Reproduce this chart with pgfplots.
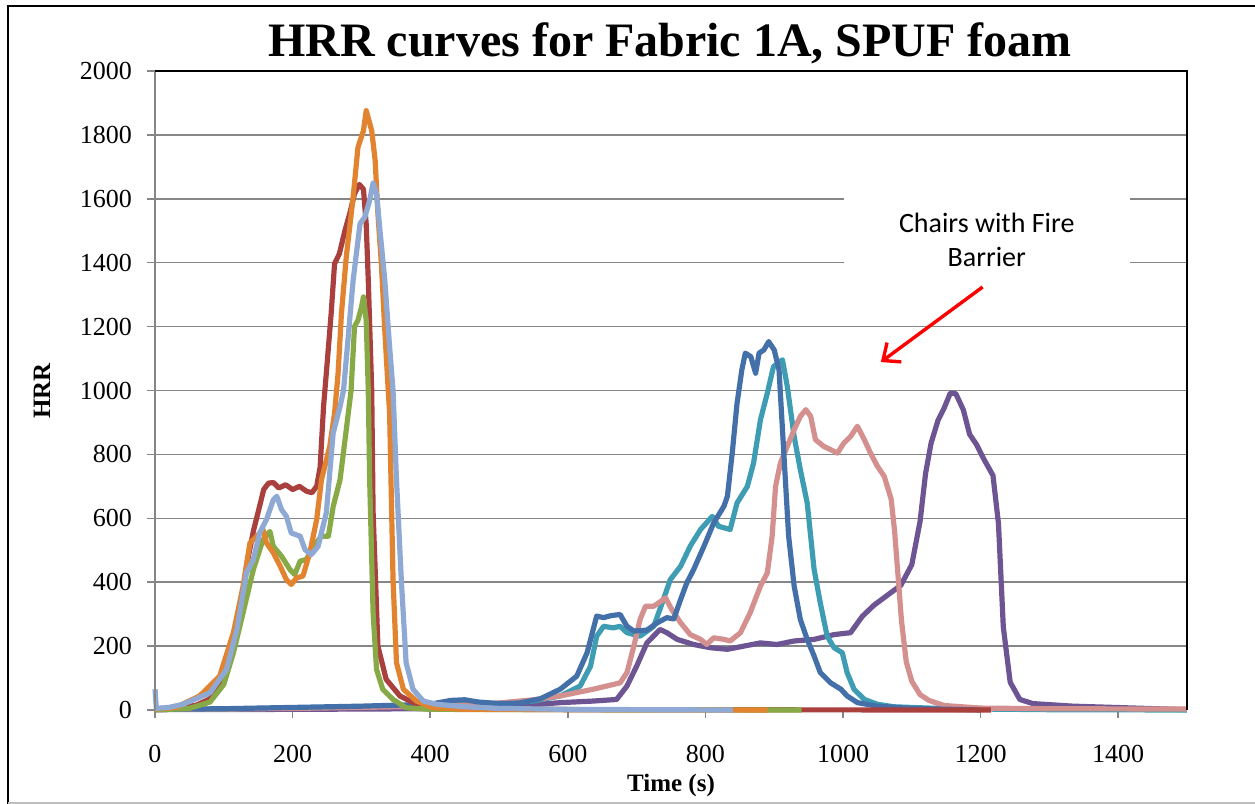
\documentclass[border=0pt]{standalone}
\usepackage{pgfplots}
\pgfplotsset{compat=1.18}
\usepackage{fontspec}
\setmainfont{Liberation Serif}
\newfontfamily\calib{Carlito}
\usetikzlibrary{arrows.meta}

\definecolor{cRed}{HTML}{A9403D}
\definecolor{cOrange}{HTML}{E2832F}
\definecolor{cGreen}{HTML}{87AA47}
\definecolor{cLightBlue}{HTML}{8EA9D4}
\definecolor{cBlue}{HTML}{4470AA}
\definecolor{cTeal}{HTML}{3E9DB3}
\definecolor{cPink}{HTML}{D3908E}
\definecolor{cPurple}{HTML}{6D5492}
\definecolor{gridgray}{HTML}{868686}

\begin{document}
\begin{tikzpicture}[x=1pt,y=1pt]
\useasboundingbox (0,0) rectangle (627.5,402);
% chart frame
\draw[line width=1pt] (4,0) -- (4,399) -- (627.5,399);
\draw[black!25, line width=0.8pt] (4,0.6) -- (627.5,0.6);
\node[font=\fontsize{24}{24}\selectfont\bfseries, anchor=base] at (335,373.5) {HRR curves for Fabric 1A, SPUF foam};
\node[font=\fontsize{12.5}{12.5}\selectfont\bfseries, rotate=90] at (21,206.5) {HRR};
\node[font=\fontsize{12.5}{12.5}\selectfont\bfseries] at (335.5,9.5) {Time (s)};

\begin{axis}[
    at={(77.5pt,47pt)}, anchor=south west,
    scale only axis,
    width=516pt, height=319.5pt,
    xmin=0, xmax=1500,
    ymin=0, ymax=2000,
    xtick={0,200,...,1400},
    ytick={0,200,...,2000},
    xtick pos=bottom, ytick pos=left,
    tick align=outside,
    major tick length=4pt,
    major tick style={draw=gridgray, line width=0.75pt},
    axis line style={draw=none},
    ymajorgrids=true,
    grid style={draw=gridgray, line width=0.75pt},
    /pgf/number format/assume math mode=true,
    /pgf/number format/1000 sep={},
    tick label style={font=\fontsize{13}{13}\selectfont},
    xticklabel style={yshift=-10pt},
    yticklabel style={xshift=-4pt},
    every axis plot/.append style={line width=2.6pt, line join=round, no markers},
    clip=false,
]
% bottom axis line and annotation box, under the curves
\draw[gridgray, line width=0.75pt] (rel axis cs:0,0) -- (rel axis cs:1,0);
\node[fill=white, inner sep=0pt, minimum width=143pt, minimum height=56pt] at (axis cs:1209,1471) {};

\addplot[cPurple] coordinates {
(0,1)(200,2)(400,4)(500,8)(589,23)(637,28)(671,33)(686,75)(700,137)(715,210)(734,252)(744,242)(759,221)(783,205)(807,195)(832,190)(856,200)(880,210)(904,205)(929,216)(958,221)(987,236)(1011,242)(1028,293)(1045,328)(1065,360)(1084,390)(1100,455)(1112,590)(1120,740)(1128,835)(1138,906)(1147,945)(1156,992)(1164,990)(1175,939)(1184,863)(1194,831)(1204,788)(1218,734)(1226,583)(1233,260)(1243,87)(1257,33)(1276,20)(1334,12)(1500,1)
};
\addplot[cTeal] coordinates {
(0,2)(100,3)(200,6)(300,10)(400,15)(450,22)(500,20)(550,28)(589,44)(618,75)(633,137)(642,231)(652,262)(666,257)(676,262)(686,242)(705,231)(725,262)(739,346)(749,408)(764,450)(778,513)(793,565)(810,606)(819,575)(836,565)(846,648)(861,700)(870,773)(880,908)(890,992)(899,1075)(912,1096)(919,1013)(929,856)(938,752)(948,648)(958,440)(967,335)(977,231)(987,195)(999,179)(1006,117)(1016,65)(1031,33)(1050,18)(1074,10)(1150,4)(1300,1)(1500,0)
};
\addplot[cPink] coordinates {
(0,2)(100,3)(200,5)(300,8)(400,12)(450,15)(500,22)(550,32)(589,44)(637,65)(676,85)(686,117)(696,200)(705,283)(713,325)(725,325)(732,335)(742,351)(751,315)(764,273)(778,236)(793,221)(802,205)(812,226)(827,221)(836,216)(851,242)(865,304)(880,388)(890,429)(897,544)(902,700)(909,773)(919,825)(929,877)(938,919)(946,940)(953,919)(960,846)(972,825)(982,815)(992,804)(1001,835)(1011,856)(1021,888)(1031,846)(1040,804)(1050,763)(1060,731)(1070,660)(1075,560)(1080,420)(1085,280)(1092,150)(1100,90)(1112,48)(1125,30)(1147,14)(1200,6)(1300,4)(1500,3)
};
\addplot[cBlue] coordinates {
(0,2)(100,4)(200,8)(300,12)(400,18)(430,30)(450,32)(470,25)(500,20)(530,22)(560,35)(589,65)(613,106)(628,179)(642,294)(652,289)(662,295)(676,299)(686,262)(696,247)(715,250)(730,273)(744,289)(754,285)(764,346)(773,398)(783,440)(798,513)(812,585)(827,638)(832,669)(839,804)(846,960)(853,1065)(858,1117)(866,1106)(873,1054)(878,1117)(885,1127)(892,1153)(900,1127)(907,1065)(914,804)(921,544)(929,388)(938,283)(948,221)(958,169)(967,117)(982,85)(997,65)(1006,44)(1021,23)(1050,12)(1100,5)(1200,0)
};
\addplot[cRed] coordinates {
(0,2)(20,4)(40,8)(60,15)(80,35)(100,100)(115,200)(125,320)(133,450)(143,560)(150,620)(158,690)(165,710)(172,712)(180,695)(190,705)(200,690)(210,700)(220,685)(228,680)(235,700)(240,760)(245,950)(250,1080)(256,1240)(261,1397)(268,1428)(276,1500)(283,1553)(290,1616)(297,1645)(303,1630)(307,1520)(310,1345)(315,1000)(317,620)(324,200)(336,96)(356,44)(380,18)(400,7)(450,3)(600,1)(1215,0)
};
\addplot[cGreen] coordinates {
(0,0)(50,5)(80,25)(100,80)(114,179)(128,304)(143,440)(157,533)(167,559)(172,512)(184,481)(196,440)(203,424)(211,466)(220,471)(230,512)(242,544)(252,544)(259,637)(269,721)(278,877)(285,1000)(290,1200)(295,1220)(300,1260)(303,1293)(307,1220)(310,1000)(312,721)(317,304)(322,127)(331,65)(346,33)(365,7)(400,2)(940,0)
};
\addplot[cOrange] coordinates {
(0,3)(30,8)(65,44)(94,106)(114,242)(128,387)(138,523)(148,544)(157,565)(162,523)(172,492)(182,450)(191,408)(198,393)(206,414)(215,419)(225,492)(235,596)(242,721)(254,825)(261,929)(266,1050)(271,1241)(278,1418)(288,1605)(295,1761)(303,1813)(307,1876)(311,1845)(315,1813)(320,1720)(324,1553)(329,1397)(334,1189)(339,1000)(341,929)(346,408)(351,148)(361,65)(380,28)(404,7)(450,2)(890,0)
};
\addplot[cLightBlue] coordinates {
(0,65)(2,5)(20,8)(41,18)(80,54)(104,127)(119,252)(133,429)(143,471)(152,554)(162,596)(172,658)(177,669)(184,627)(191,606)(198,554)(211,544)(218,502)(227,486)(237,512)(249,617)(259,867)(269,950)(274,1000)(288,1345)(298,1522)(305,1543)(312,1595)(317,1650)(322,1616)(327,1501)(334,1345)(341,1137)(346,1000)(351,721)(358,408)(365,148)(375,65)(390,28)(409,18)(450,10)(500,5)(600,2)(840,0)
};

% plot area borders
\draw[gridgray, line width=0.75pt] (rel axis cs:0,0) -- (rel axis cs:0,1);
\draw[black, line width=1pt] (rel axis cs:0,1) -- (rel axis cs:1,1) -- (rel axis cs:1,0);

% annotation
\node[align=center, font=\calib\fontsize{14}{17}\selectfont] at (axis cs:1209,1471) {Chairs with Fire\\Barrier};
\draw[red, line width=1.7pt, -{Straight Barb[length=7pt,width=12pt]}] (axis cs:1203,1324) -- (axis cs:1055,1089);
\end{axis}
\end{tikzpicture}
\end{document}
